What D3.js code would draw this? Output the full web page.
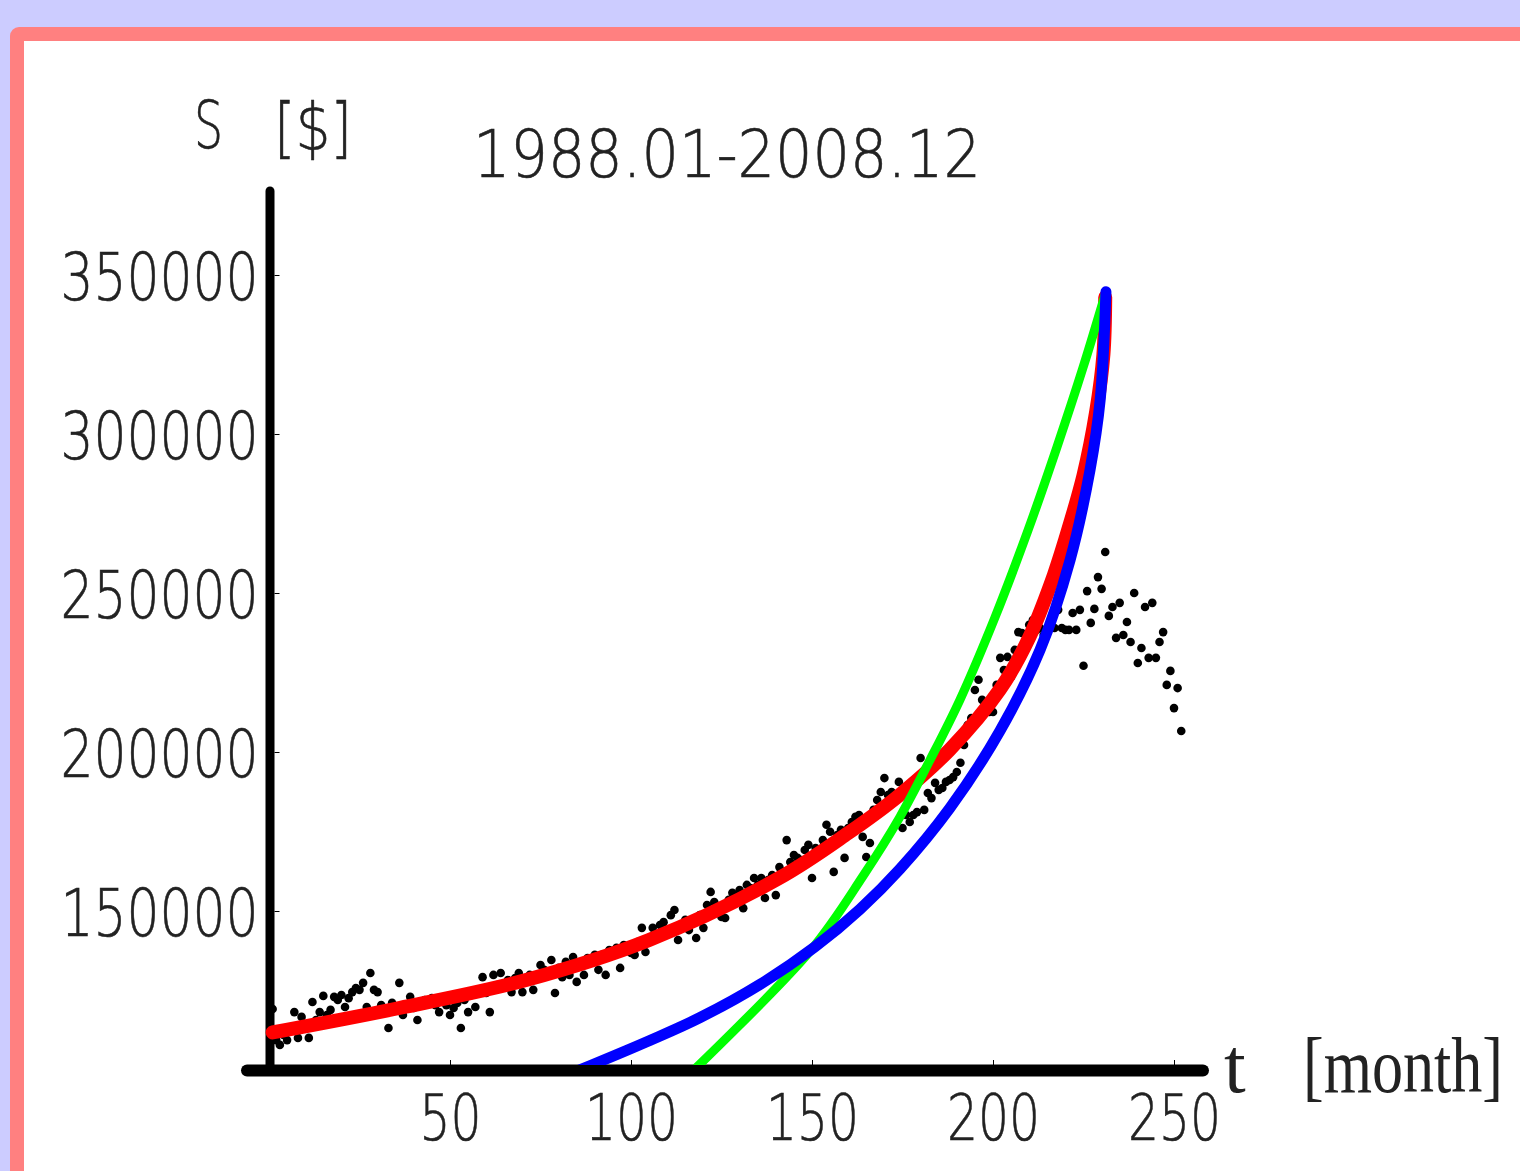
<!DOCTYPE html>
<html>
<head>
<meta charset="utf-8">
<script src="https://cdn.jsdelivr.net/npm/d3@7"></script>
<style>
  html, body { margin: 0; padding: 0; background: #ccccff; overflow: hidden; }
  svg { display: block; }
</style>
</head>
<body>
<svg id="chart" width="1520" height="1171"></svg>
<script>
// monthly price S [$], t = 1..252 (1988.01 - 2008.12)
const priceS = [
  119200,109400,107900,111000,109400,112600,118200,110100,116700,114200,
  110100,121400,115700,118200,123300,117300,118900,123000,122000,123600,
  119800,122600,124500,125800,125200,127400,119800,130500,125200,124500,
  120400,118200,113200,121100,118900,127400,117300,120400,123000,119500,
  115700,120400,122000,121400,122600,120400,118200,122000,120400,117300,
  119500,121100,113200,122000,118200,123600,119800,125200,129200,124200,
  118200,129900,126700,130500,126700,128300,124500,128900,130500,124500,
  128300,129900,125200,128900,133000,131500,129900,134600,124200,132100,
  129200,134000,129900,135500,127700,133000,129900,135200,134000,136200,
  131500,136200,129900,137700,137100,138400,132100,139300,137700,136800,
  136200,140300,144700,137100,141500,144700,142500,145600,146500,144000,
  148700,150300,140900,145600,147200,144000,146500,141500,148700,144700,
  151900,156000,152800,150300,148100,147800,153500,155700,155000,156600,
  150900,158200,157200,160400,158200,160400,154100,159800,161300,155000,
  163800,162300,172300,165400,167600,166700,166000,169200,170800,160400,
  169800,169200,172300,177100,174900,162300,173900,175500,166700,176100,
  178000,179600,180200,173300,167000,171400,181800,184900,187400,191800,
  186500,187400,184900,190600,176100,180200,178000,180200,181100,198100,
  181800,187100,185500,190300,188100,188700,190600,191200,192100,193700,
  196600,202200,208500,210700,219500,222700,216400,214800,212600,212600,
  221100,229600,225800,229900,223600,232100,237700,237400,235200,240000,
  241500,238400,239000,236800,238400,240000,239000,244700,239000,238400,
  238400,243700,238400,244700,227100,250600,240600,245000,255000,251300,
  262900,242800,245600,235900,246900,236800,240900,234600,250000,228000,
  232700,245600,229600,246900,229600,234600,237700,221100,225500,213800,
  220100,206600
];

// fitted curves as [t, S]
const redFit = [
  [1, 111800], [36, 119500], [71, 128300], [105, 140900], [141, 160400],
  [160, 174500], [174, 186300], [188, 200700], [202, 219800], [210, 236000],
  [216, 253000], [220, 267000], [225, 287000], [228.5, 307000], [230.5, 325000], [231, 343000]
];
const blueFit = [
  [84.5, 99400], [105.2, 109300], [119.1, 116500], [135.6, 126900], [150.8, 138700],
  [163.3, 150600], [174.3, 163200], [188.1, 182400], [201.9, 206600], [213.0, 232100],
  [221.3, 260400], [226.8, 288700], [229.6, 310700], [231.2, 344700]
];
const greenFit = [
  [117, 99600], [149.7, 137700], [164.1, 161000], [174.3, 179600], [182.6, 197500],
  [190.9, 216500], [200.6, 242500], [209.7, 269800], [217.7, 296000], [224.9, 321000],
  [231.2, 344700]
];

const xTicks = [50, 100, 150, 200, 250];
const yTicks = [150000, 200000, 250000, 300000, 350000];
const title = "1988.01-2008.12";

const svg = d3.select("#chart");
const W = 1520, H = 1171;

// frame
svg.append("rect").attr("x", 0).attr("y", 0).attr("width", W).attr("height", H).attr("fill", "#ccccff");
svg.append("rect").attr("x", 10).attr("y", 27).attr("width", W + 40).attr("height", H + 40)
  .attr("rx", 9).attr("fill", "#ff8080");
svg.append("rect").attr("x", 24).attr("y", 41).attr("width", W).attr("height", H).attr("fill", "#ffffff");

const x = d3.scaleLinear().domain([0, 250]).range([269, 1174]);
const y = d3.scaleLinear().domain([100000, 350000]).range([1070, 275]);

const thinSans = "'DejaVu Sans', sans-serif";
const labelStyle = sel => sel
  .attr("font-family", thinSans).attr("font-weight", 200).attr("font-size", 66)
  .attr("fill", "#222").attr("stroke", "#222").attr("stroke-width", 0.6)
  .attr("lengthAdjust", "spacingAndGlyphs");

// axes with small inward ticks
const gx = svg.append("g").attr("transform", "translate(0,1065)")
  .call(d3.axisBottom(x).tickValues(xTicks).tickSize(-5).tickPadding(0));
gx.select(".domain").remove();
gx.selectAll("line").attr("stroke", "#000").attr("stroke-width", 1);
gx.selectAll("text").attr("y", 75).attr("dy", 0)
  .call(labelStyle).attr("font-size", 64)
  .attr("textLength", d => String(d).length * 31);

const gy = svg.append("g").attr("transform", "translate(274.5,0)")
  .call(d3.axisLeft(y).tickValues(yTicks).tickSize(-5).tickFormat(d3.format("d")));
gy.select(".domain").remove();
gy.selectAll("line").attr("stroke", "#000").attr("stroke-width", 1);
gy.selectAll("text").attr("x", -16).attr("dy", 0).attr("y", 24)
  .call(labelStyle).attr("textLength", 198);

// thick axis bars
svg.append("line").attr("x1", 270).attr("x2", 270).attr("y1", 191).attr("y2", 1070)
  .attr("stroke", "#000").attr("stroke-width", 9).attr("stroke-linecap", "round");
svg.append("line").attr("x1", 247).attr("x2", 1203).attr("y1", 1070.5).attr("y2", 1070.5)
  .attr("stroke", "#000").attr("stroke-width", 12).attr("stroke-linecap", "round");

// data dots
svg.append("g").selectAll("circle").data(priceS).join("circle")
  .attr("cx", (d, i) => x(i + 1)).attr("cy", d => y(d)).attr("r", 4.3).attr("fill", "#000");

// fitted curves
svg.append("clipPath").attr("id", "plotClip")
  .append("rect").attr("x", 200).attr("y", 150).attr("width", 1100).attr("height", 915);

const line = d3.line().x(d => x(d[0])).y(d => y(d[1])).curve(d3.curveCatmullRom.alpha(0.5));
const curves = svg.append("g").attr("clip-path", "url(#plotClip)");
curves.append("path").datum(redFit).attr("d", line).attr("fill", "none")
  .attr("stroke", "#ff0000").attr("stroke-width", 14).attr("stroke-linecap", "round");
curves.append("path").datum(greenFit).attr("d", line).attr("fill", "none")
  .attr("stroke", "#00ff00").attr("stroke-width", 9).attr("stroke-linecap", "round");
curves.append("path").datum(blueFit).attr("d", line).attr("fill", "none")
  .attr("stroke", "#0000ff").attr("stroke-width", 11).attr("stroke-linecap", "round");

// texts
svg.append("text").attr("x", 473).attr("y", 177).text(title)
  .call(labelStyle).attr("textLength", 508);
svg.append("text").attr("x", 194).attr("y", 148).text("S")
  .call(labelStyle).attr("textLength", 29);
svg.append("text").attr("x", 274).attr("y", 150).text("[$]")
  .call(labelStyle).attr("textLength", 78);

const serif = sel => sel
  .attr("font-family", "'Liberation Serif', serif").attr("font-size", 78)
  .attr("fill", "#222");
svg.append("text").attr("x", 1224).attr("y", 1092).text("t").call(serif);
svg.append("text").attr("x", 1303).attr("y", 1092).text("[month]")
  .call(serif).attr("textLength", 200).attr("lengthAdjust", "spacingAndGlyphs");
</script>
</body>
</html>
